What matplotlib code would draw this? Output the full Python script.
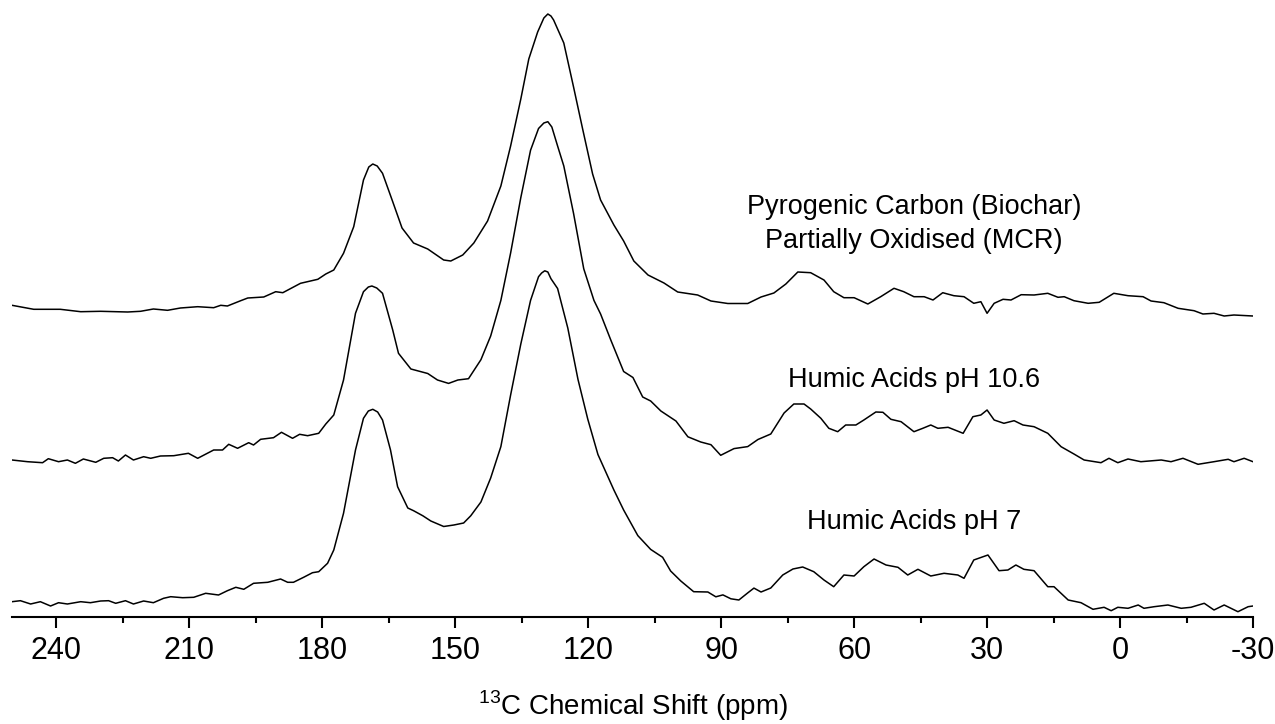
import matplotlib
matplotlib.use("Agg")
import matplotlib.pyplot as plt
from matplotlib.ticker import MultipleLocator

plt.rcParams['font.family'] = ['Liberation Sans', 'DejaVu Sans']
plt.rcParams['mathtext.fontset'] = 'custom'
plt.rcParams['mathtext.rm'] = 'Liberation Sans'
plt.rcParams['axes.unicode_minus'] = False

# spectra: chemical shift (ppm) and intensity (a.u.)
biochar_ppm = [250, 245.1, 239.1, 234.5, 230.0, 223.9, 221.0, 218.1, 214.9, 212.0,
               208.1, 204.5, 202.9, 201.4, 198.4, 196.8, 193.2, 190.5, 188.9, 184.9,
               181.0, 179.2, 177.4, 175.2, 172.9, 170.7, 169.5, 168.6, 167.6, 166.4,
               164.1, 162.0, 159.4, 156.2, 152.6, 151.0, 148.3, 145.8, 142.7, 139.7,
               137.5, 135.2, 133.4, 131.4, 130.0, 129.1, 128.4, 127.8, 125.5, 123.3,
               121.2, 119.0, 117.2, 114.2, 112.0, 109.7, 106.5, 102.9, 99.8, 95.3,
               92.3, 88.5, 84.0, 81.0, 78.1, 75.4, 72.7, 69.8, 66.8, 64.6,
               62.3, 60.0, 56.9, 54.0, 51.0, 48.8, 46.5, 44.2, 42.2, 40.0,
               37.5, 35.2, 33.0, 31.4, 30.0, 28.4, 26.4, 24.6, 22.3, 19.4,
               16.3, 14.0, 12.6, 10.4, 7.2, 4.7, 1.4, -1.8, -5.2, -7.0,
               -9.9, -13.1, -16.7, -18.7, -21.2, -23.5, -25.7, -30]
biochar_int = [6.7, 2.7, 2.7, 0.3, 0.7, 0, 0.7, 3, 1.7, 4,
               5.3, 4.3, 6.7, 6, 11.3, 14, 15, 20.3, 19.3, 28.7,
               32.7, 38, 42, 58.7, 85.3, 132, 145, 148, 146, 138.7,
               110.3, 84, 69, 63, 52, 51, 57, 69, 91, 126,
               166, 213, 253, 280, 294, 298, 296, 292, 269, 225,
               182, 138, 112, 87, 71, 51, 37, 29, 20, 17,
               11, 8.5, 8.5, 15, 19, 28, 40, 39.3, 32, 20.3,
               14.3, 14.3, 8, 15.3, 23.7, 20.3, 15.3, 15.3, 12, 19.3,
               16.3, 15.3, 8.7, 10.3, -1.3, 8.7, 12.7, 12, 17.3, 17,
               18.7, 14.7, 15.3, 11.3, 8.7, 9.7, 18.7, 16.3, 15.3, 11,
               9.3, 3.7, 1.3, -2, -1.3, -4, -3, -4]

ha106_ppm = [250, 246.5, 243.1, 241.8, 239.5, 237.5, 235.7, 233.9, 231.1, 229.3,
             227.3, 226.0, 224.4, 222.6, 220.3, 218.7, 216.5, 213.5, 210.2, 208.1,
             204.5, 202.5, 201.1, 199.1, 196.6, 195.5, 193.9, 191.0, 189.2, 186.7,
             185.1, 183.3, 180.8, 179.2, 177.4, 175.2, 172.5, 170.7, 169.6, 168.8,
             167.7, 166.4, 164.1, 162.8, 160.0, 156.2, 154.0, 151.5, 149.4, 147.0,
             144.2, 142.0, 139.7, 137.5, 135.2, 133.0, 131.2, 130.0, 129.1, 128.2,
             126.9, 125.5, 123.3, 121.0, 118.7, 117.2, 114.9, 112.0, 109.9, 107.7,
             105.9, 103.6, 100.2, 97.5, 94.6, 92.3, 90.1, 87.1, 84.0, 81.7,
             78.8, 75.8, 73.6, 71.3, 69.8, 67.5, 65.7, 63.7, 61.9, 59.6,
             57.8, 55.1, 53.5, 51.7, 49.4, 46.5, 44.5, 42.7, 41.1, 38.8,
             35.4, 33.2, 31.4, 30.0, 28.4, 26.2, 23.9, 21.9, 19.4, 16.3,
             13.3, 10.4, 8.1, 4.3, 2.5, 0.5, -1.8, -4.7, -9.3, -11.5,
             -14.2, -17.6, -21.2, -24.4, -25.7, -28.0, -30]
ha106_int = [1, -0.7, -1.7, 2.3, -0.7, 1, -2.3, 2, -1.3, 2.7,
             3.3, 0, 6, 1, 4.3, 2.7, 5, 5.3, 7.7, 2.7,
             11, 11, 16.7, 12.7, 18.3, 16, 21.7, 23.3, 28.7, 22.7,
             26.7, 25.3, 27.7, 37, 46, 81, 147.7, 169.3, 174, 175,
             173, 167.7, 131, 107.7, 92, 87.5, 81, 77.6, 81, 82.3,
             101.3, 125, 160.6, 208, 263.4, 310.8, 332.5, 338, 339.3, 334,
             315, 295, 247.6, 192.2, 160.6, 147, 121, 89.5, 83.5, 64,
             60, 50, 40, 24.2, 19, 16.3, 5.7, 12.4, 14.4, 21.5,
             27, 48, 57, 57, 52, 42.7, 32.7, 29.3, 36, 36,
             41, 49, 48.7, 41.7, 39.3, 29.3, 32.7, 36, 32.7, 33.7,
             27.7, 44.3, 46, 51, 41, 37.7, 40.3, 36, 34.3, 27.7,
             14.3, 7, 1, -1.7, 2.7, -1.7, 2, -0.7, 1, -0.7,
             2.7, -3.3, -0.7, 1.7, -0.7, 2.7, -0.7]

ha7_ppm = [250, 248.1, 245.8, 243.6, 241.3, 239.5, 237.5, 234.5, 232.3, 230.0,
           228.2, 226.6, 224.4, 222.6, 220.3, 218.1, 215.8, 214.2, 211.5, 209.0,
           206.3, 203.4, 201.4, 199.5, 197.7, 195.5, 192.3, 189.4, 187.8, 186.5,
           184.2, 182.2, 180.8, 178.8, 177.4, 175.2, 172.5, 170.7, 169.6, 168.6,
           167.5, 166.4, 164.6, 163.0, 160.7, 159.4, 157.3, 155.5, 152.6, 150.3,
           148.1, 146.5, 144.2, 142.0, 139.7, 137.5, 135.2, 133.0, 131.2, 130.5,
           129.8, 129.1, 128.4, 126.9, 124.6, 122.3, 120.1, 117.8, 114.2, 112.0,
           108.8, 105.9, 103.2, 101.4, 99.1, 96.2, 93.0, 91.2, 89.6, 87.8,
           86.0, 84.0, 82.6, 81.0, 78.8, 76.1, 73.8, 71.6, 69.1, 66.8,
           64.6, 62.3, 60.0, 57.8, 55.5, 52.8, 50.1, 47.9, 45.6, 42.7,
           39.7, 36.6, 35.2, 33.0, 29.8, 27.3, 25.3, 23.5, 21.7, 19.4,
           16.3, 14.9, 11.7, 8.8, 6.1, 3.6, 2.0, 0.5, -1.8, -4.1,
           -5.4, -7.7, -10.8, -13.8, -16.0, -19.0, -21.2, -23.5, -26.6, -28.9,
           -30]
ha7_int = [3.3, 4.3, 1, 3.3, -1, 2.3, 1, 3.3, 2.3, 4,
           4.3, 1.7, 4.3, 1, 4, 2.3, 6.7, 8.3, 7.3, 7.7,
           11.7, 10, 14.3, 17.7, 15.7, 21.7, 22.7, 26, 22.7, 22.7,
           27.7, 32.3, 33.3, 41.7, 55, 91.7, 155, 186.7, 194, 195.7,
           193, 185, 155, 118.3, 97, 94.3, 89.2, 84, 78.5, 80,
           82, 89.2, 103, 127, 158.4, 210, 261, 304.6, 328.3, 332,
           334.2, 333, 326.3, 316.5, 277, 225.6, 186, 150.5, 115, 95,
           69.4, 55.6, 47.7, 34, 24, 13.3, 13, 8.2, 10.1, 6.2,
           5, 12.1, 16.9, 13, 17, 30, 36, 38, 33.3, 25,
           18.3, 30, 29, 38.3, 46, 40, 37.7, 30, 35.7, 29,
           31.7, 30, 26.7, 45, 50, 34.3, 35, 40, 35.7, 34.3,
           18.3, 18.3, 5, 2.3, -4.3, -2.3, -5.7, -2.3, -3.3, 0,
           -3.3, -1.7, 0, -3.3, -2.3, 1.7, -5, 0, -6.7, -1.7,
           -1]

labels = ['Pyrogenic Carbon (Biochar)\nPartially Oxidised (MCR)',
          'Humic Acids pH 10.6',
          'Humic Acids pH 7']

fig = plt.figure(figsize=(12.75, 7.24), dpi=100)
ax = fig.add_axes([12 / 1275, 107 / 724, 1241 / 1275, 617 / 724])

# stacked offsets for each trace
offsets = [305, 156, 12]
series = [(biochar_ppm, biochar_int), (ha106_ppm, ha106_int), (ha7_ppm, ha7_int)]
for (x, y), off in zip(series, offsets):
    ax.plot(x, [v + off for v in y], color='black', lw=1.1, solid_joinstyle='round')

# labels next to each spectrum
ax.text(46.5, 393, labels[0], ha='center', va='center', fontsize=19.5, linespacing=1.45)
ax.text(46.5, 237, labels[1], ha='center', va='center', fontsize=19.5)
ax.text(46.5, 95, labels[2], ha='center', va='center', fontsize=19.5)

ax.set_xlim(250, -30)
ax.set_ylim(0, 617)

for side in ['left', 'right', 'top']:
    ax.spines[side].set_visible(False)
ax.spines['bottom'].set_linewidth(1.5)
ax.set_yticks([])
ax.set_xticks(range(240, -31, -30))
ax.xaxis.set_minor_locator(MultipleLocator(15))
ax.tick_params(axis='x', which='major', direction='out', length=8, width=1.5,
               labelsize=22, pad=6)
ax.tick_params(axis='x', which='minor', direction='out', length=4.5, width=1.5)
ax.set_xlabel(r'$^{13}$C Chemical Shift (ppm)', fontsize=20, labelpad=16)

fig.savefig('out.png', dpi=100)
